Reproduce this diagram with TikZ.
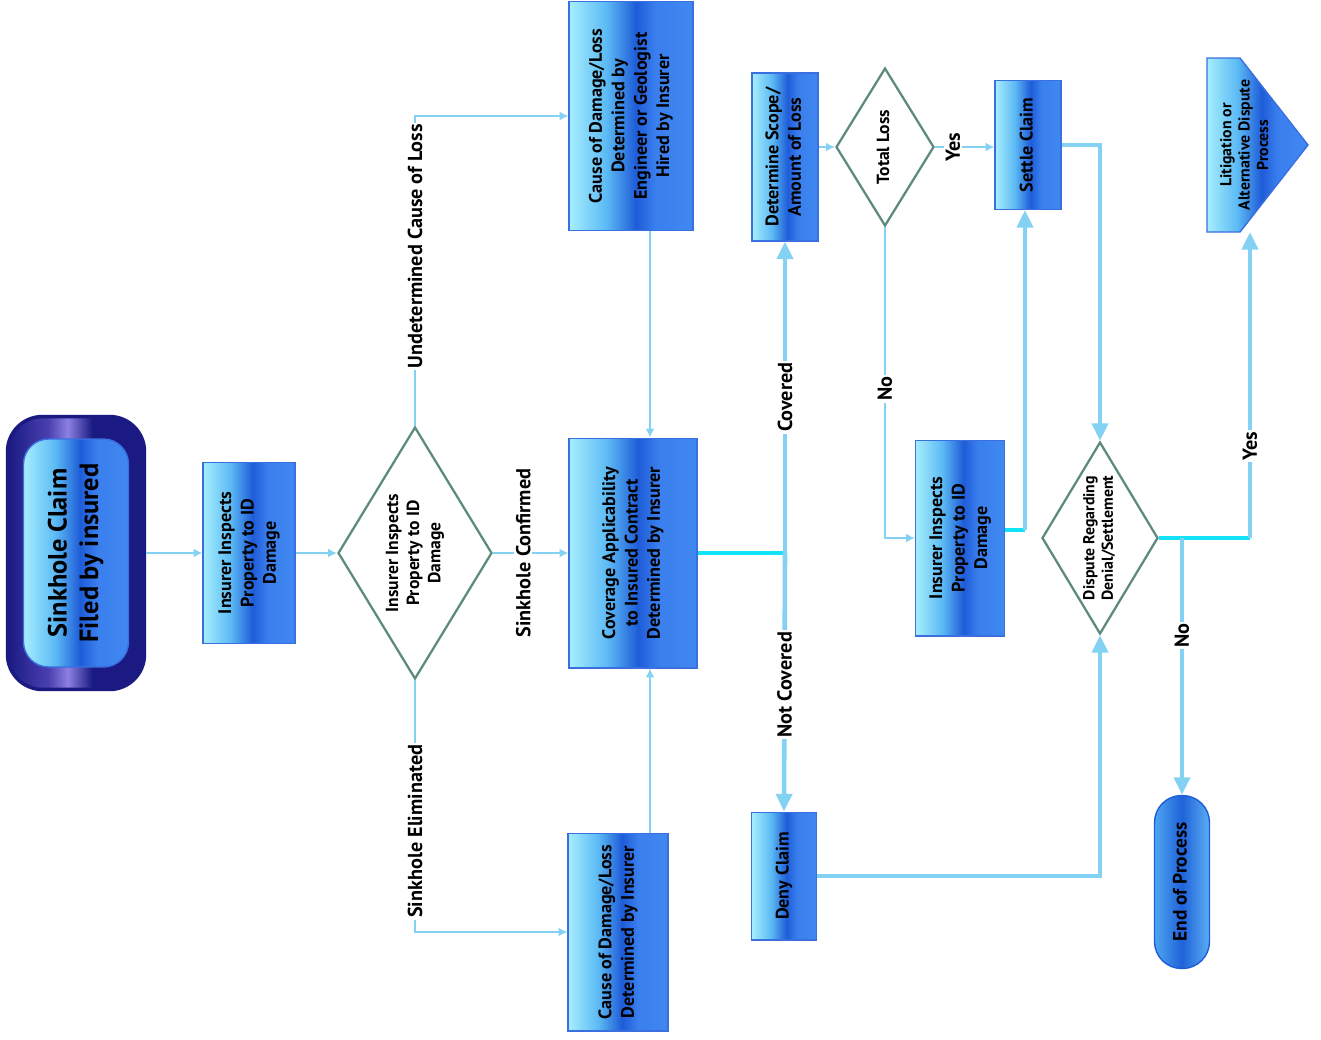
\documentclass[tikz,border=0pt]{standalone}
\usepackage{graphicx}
\usepackage{fontspec}
\setmainfont{PT Sans}
\usetikzlibrary{shapes.geometric,arrows.meta,calc}
\definecolor{bA}{HTML}{A6EEFD}
\definecolor{bB}{HTML}{5CBAF4}
\definecolor{bC}{HTML}{1E5CD8}
\definecolor{bD}{HTML}{3A7FEE}
\definecolor{bE}{HTML}{4088F0}
\definecolor{bord}{HTML}{3A6FE0}
\definecolor{nA}{HTML}{1A1A82}
\definecolor{nB}{HTML}{4A40B0}
\definecolor{nC}{HTML}{8C80E2}
\definecolor{dgr}{HTML}{5E8A80}
\definecolor{lb}{HTML}{84D2F3}
\definecolor{cyn}{HTML}{12E2F6}
\definecolor{capA}{HTML}{4FA6F0}
\definecolor{capB}{HTML}{1F62DA}
\definecolor{capC}{HTML}{5BAEF3}
\pgfdeclarehorizontalshading{boxsh}{100bp}{color(0bp)=(bA); color(25bp)=(bA); color(40bp)=(bB); color(52bp)=(bC); color(60bp)=(bD); color(75bp)=(bE); color(100bp)=(bE)}
\pgfdeclarehorizontalshading{navysh}{100bp}{color(0bp)=(nA); color(25bp)=(nA); color(40bp)=(nB); color(47bp)=(nC); color(56bp)=(nA); color(75bp)=(nA); color(100bp)=(nA)}
\pgfdeclarehorizontalshading{capsh}{100bp}{color(0bp)=(capA); color(25bp)=(capA); color(50bp)=(capB); color(75bp)=(capC); color(100bp)=(capC)}
\newcommand\vtx[1]{\rotatebox{90}{\begin{tabular}{@{}c@{}}#1\end{tabular}}}
\begin{document}
\begin{tikzpicture}[x=0.02cm,y=-0.02cm,
  box/.style={draw=bord, line width=0.6pt, shading=boxsh, inner sep=0pt, align=center,
    font=\bfseries\fontsize{10.3}{12.8}\selectfont},
  dia/.style={diamond, draw=dgr, line width=1.3pt, fill=white, inner sep=0pt,
    font=\bfseries\fontsize{10}{12}\selectfont},
  lnthin/.style={draw=lb, line width=1.1pt},
  lnthick/.style={draw=lb, line width=2.6pt},
  lncyan/.style={draw=cyn, line width=2.6pt},
  sarr/.style={-{Latex[length=5pt,width=5pt]}},
  barr/.style={-{Triangle[length=10pt,width=9pt]}},
  lab/.style={rotate=90, fill=white, inner sep=1pt, font=\bfseries\fontsize{11.5}{13}\selectfont}]
\useasboundingbox (0,0) rectangle (1321,1039);
\fill[white] (0,0) rectangle (1321,1039);

% start terminal
\node[draw=nA, line width=2pt, shading=navysh, rounded corners=0.7cm,
  minimum width=2.74cm, minimum height=5.46cm] (start) at (76,553) {};
\node[draw=bord, line width=0.8pt, shading=boxsh, rounded corners=0.5cm,
  minimum width=2.1cm, minimum height=4.56cm, inner sep=0pt,
  font=\bfseries\fontsize{15}{18}\selectfont] (startin) at (76,553)
  {\vtx{Sinkhole Claim\\Filed by insured}};

\node[box, minimum width=1.84cm, minimum height=3.62cm] (ins1) at (249,553)
  {\vtx{Insurer Inspects\\Property to ID\\Damage}};
\node[dia, aspect=0.61, minimum width=3.08cm, minimum height=5.04cm] (d1) at (415,553)
  {\vtx{Insurer Inspects\\Property to ID\\Damage}};
\node[box, minimum width=2.56cm, minimum height=4.6cm] (cov) at (633,553)
  {\vtx{Coverage Applicability\\to Insured Contract\\Determined by Insurer}};
\node[box, minimum width=2.48cm, minimum height=4.58cm] (eng) at (631,116)
  {\vtx{Cause of Damage/Loss\\Determined by\\Engineer or Geologist\\Hired by Insurer}};
\node[box, minimum width=2.0cm, minimum height=3.96cm] (cins) at (618,932)
  {\vtx{Cause of Damage/Loss\\Determined by Insurer}};
\node[box, minimum width=1.32cm, minimum height=3.36cm] (scope) at (785,157)
  {\vtx{Determine Scope/\\Amount of Loss}};
\node[dia, aspect=0.62, minimum width=1.96cm, minimum height=3.16cm] (total) at (885,147)
  {\vtx{Total Loss}};
\node[box, minimum width=1.32cm, minimum height=2.58cm] (settle) at (1028,145)
  {\vtx{Settle Claim}};

% litigation pentagon
\shade[shading=boxsh, draw=bord, line width=0.8pt]
  (1207,58) -- (1240,58) -- (1308,145) -- (1240,232) -- (1207,232) -- cycle;
\node[inner sep=0pt, font=\bfseries\fontsize{9}{10.5}\selectfont] (lit) at (1246,145)
  {\vtx{Litigation or\\Alternative Dispute\\Process}};
\coordinate (litb) at (1250,232);

\node[box, minimum width=1.78cm, minimum height=3.92cm] (ins2) at (960,538)
  {\vtx{Insurer Inspects\\Property to ID\\Damage}};
\node[dia, aspect=0.6, minimum width=2.32cm, minimum height=3.84cm,
  font=\bfseries\fontsize{9}{10.5}\selectfont] (disp) at (1100,538)
  {\vtx{Dispute Regarding\\Denial/Settlement}};
\node[box, minimum width=1.3cm, minimum height=2.56cm] (deny) at (784,876)
  {\vtx{Deny Claim}};
\node[draw=bC, line width=0.8pt, shading=capsh, rounded corners=0.54cm, inner sep=0pt,
  minimum width=1.1cm, minimum height=3.46cm,
  font=\bfseries\fontsize{11}{13}\selectfont] (endp) at (1182,882)
  {\vtx{End of Process}};

% junctions
\coordinate (jscope) at (scope.south |- cov.east);
\coordinate (j2) at ([xshift=-0.06cm]settle.south |- ins2.east);
\coordinate (j3) at (litb |- disp.east);
\coordinate (j4) at (endp.north |- disp.east);

% connectors
\draw[lnthin, sarr] (start.east) -- (ins1.west);
\draw[lnthin, sarr] (ins1.east) -- (d1.west);
\draw[lnthin, sarr] (d1.north) |- (eng.west)
  node[lab, pos=0.29] {Undetermined Cause of Loss};
\draw[lnthin, sarr] (d1.south) |- (cins.west)
  node[lab, pos=0.3] {Sinkhole Eliminated};
\draw[lnthin, sarr] (d1.east) -- (cov.west)
  node[lab, pos=0.4] {Sinkhole Confirmed};
\draw[lnthin, sarr] ([xshift=0.38cm]eng.south) -- ([xshift=0.38cm]eng.south |- cov.north);
\draw[lnthin, sarr] ([xshift=0.64cm]cins.north) -- ([xshift=0.64cm]cins.north |- cov.south);
\draw[lncyan] (cov.east) -- (jscope);
\draw[lnthick, barr] (jscope) -- (scope.south) node[lab, pos=0.5] {Covered};
\draw[lnthick, barr] (jscope) -- (deny.north) node[lab, pos=0.51] {Not Covered};
\draw[lnthin, sarr] (scope.east |- total.west) -- (total.west);
\draw[lnthin, sarr] (total.east) -- (settle.west |- total.east)
  node[lab, pos=0.3] {Yes};
\draw[lnthin, sarr] (total.south) |- (ins2.west)
  node[lab, pos=0.26] {No};
\draw[lncyan] ([yshift=0.16cm]ins2.east) -- ([yshift=0.16cm]j2);
\draw[lnthick, barr] ([yshift=0.16cm]j2) -- ([xshift=-0.06cm]settle.south);
\draw[lnthick, barr] (settle.east) -| (disp.north);
\draw[lnthick, barr] (deny.east) -| (disp.south);
\draw[lncyan] (disp.east) -- (j3);
\draw[lnthick, barr] (j3) -- (litb) node[lab, pos=0.3] {Yes};
\draw[lnthick, barr] (j4) -- (endp.north) node[lab, pos=0.38] {No};
\end{tikzpicture}
\end{document}
